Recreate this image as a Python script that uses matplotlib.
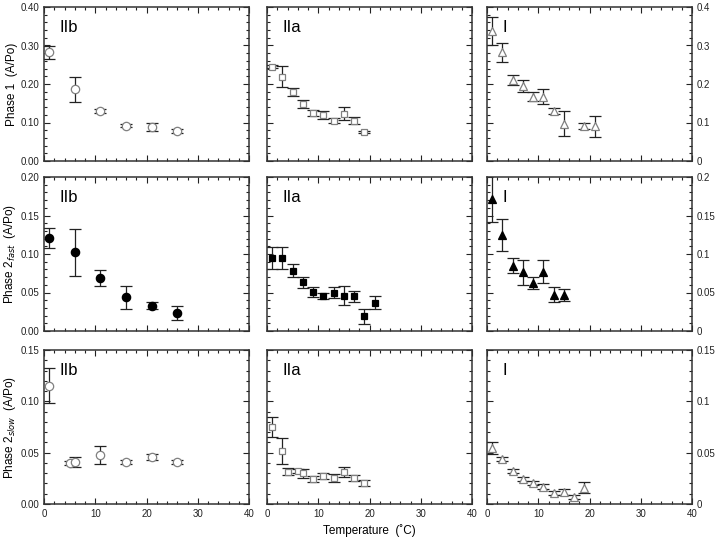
import matplotlib
matplotlib.use("Agg")
import matplotlib.pyplot as plt
from matplotlib.ticker import MultipleLocator, FormatStrFormatter

plt.rcParams['font.family'] = ['Liberation Sans', 'DejaVu Sans']

# ---- data ----
# phase 1
p1_IIb_t = [1, 6, 11, 16, 21, 26]
p1_IIb_y = [0.283, 0.186, 0.130, 0.092, 0.088, 0.078]
p1_IIb_e = [0.017, 0.032, 0.006, 0.004, 0.010, 0.005]

p1_IIa_t = [1, 3, 5, 7, 9, 11, 13, 15, 17, 19]
p1_IIa_y = [0.245, 0.219, 0.179, 0.148, 0.125, 0.119, 0.105, 0.123, 0.105, 0.075]
p1_IIa_e = [0.004, 0.028, 0.011, 0.010, 0.008, 0.010, 0.006, 0.016, 0.008, 0.003]

p1_I_t = [1, 3, 5, 7, 9, 11, 13, 15, 19, 21]
p1_I_y = [0.337, 0.282, 0.211, 0.195, 0.167, 0.167, 0.130, 0.097, 0.091, 0.090]
p1_I_e = [0.037, 0.024, 0.013, 0.015, 0.012, 0.020, 0.007, 0.033, 0.009, 0.028]

# phase 2 fast
p2f_IIb_t = [1, 6, 11, 16, 21, 26]
p2f_IIb_y = [0.121, 0.102, 0.069, 0.044, 0.033, 0.023]
p2f_IIb_e = [0.013, 0.031, 0.010, 0.015, 0.0045, 0.009]

p2f_IIa_t = [1, 3, 5, 7, 9, 11, 13, 15, 17, 19, 21]
p2f_IIa_y = [0.095, 0.095, 0.078, 0.063, 0.0505, 0.046, 0.050, 0.046, 0.045, 0.019, 0.037]
p2f_IIa_e = [0.0145, 0.014, 0.0085, 0.007, 0.006, 0.004, 0.0065, 0.012, 0.007, 0.010, 0.008]

p2f_I_t = [1, 3, 5, 7, 9, 11, 13, 15]
p2f_I_y = [0.172, 0.125, 0.085, 0.076, 0.062, 0.077, 0.047, 0.047]
p2f_I_e = [0.030, 0.021, 0.010, 0.0165, 0.008, 0.015, 0.0095, 0.008]

# phase 2 slow
p2s_IIb_t = [1, 5, 6, 11, 16, 21, 26]
p2s_IIb_y = [0.115, 0.040, 0.041, 0.0475, 0.041, 0.046, 0.041]
p2s_IIb_e = [0.017, 0.002, 0.0045, 0.009, 0.002, 0.003, 0.002]

p2s_IIa_t = [1, 3, 4, 6, 7, 9, 11, 13, 15, 17, 19]
p2s_IIa_y = [0.075, 0.0515, 0.0316, 0.032, 0.030, 0.024, 0.027, 0.025, 0.031, 0.025, 0.0205]
p2s_IIa_e = [0.010, 0.013, 0.003, 0.002, 0.0045, 0.003, 0.003, 0.004, 0.005, 0.003, 0.003]

p2s_I_t = [1, 3, 5, 7, 9, 11, 13, 15, 17, 19]
p2s_I_y = [0.0545, 0.044, 0.032, 0.0245, 0.0205, 0.017, 0.011, 0.0115, 0.0072, 0.016]
p2s_I_e = [0.0055, 0.002, 0.002, 0.002, 0.002, 0.002, 0.002, 0.003, 0.002, 0.005]

group_names = ['IIb', 'IIa', 'I']
row_labels = ['Phase 1  (A/Po)', 'Phase 2$_{fast}$  (A/Po)', 'Phase 2$_{slow}$  (A/Po)']
row_ylim = [0.40, 0.20, 0.15]
row_major = [0.10, 0.05, 0.05]
row_minor = [0.02, 0.01, 0.01]

rows = [
    [(p1_IIb_t, p1_IIb_y, p1_IIb_e), (p1_IIa_t, p1_IIa_y, p1_IIa_e), (p1_I_t, p1_I_y, p1_I_e)],
    [(p2f_IIb_t, p2f_IIb_y, p2f_IIb_e), (p2f_IIa_t, p2f_IIa_y, p2f_IIa_e), (p2f_I_t, p2f_I_y, p2f_I_e)],
    [(p2s_IIb_t, p2s_IIb_y, p2s_IIb_e), (p2s_IIa_t, p2s_IIa_y, p2s_IIa_e), (p2s_I_t, p2s_I_y, p2s_I_e)],
]

col_marker = ['o', 's', '^']
col_msize = [6.0, 5.0, 6.0]
row_filled = [False, True, False]

fig = plt.figure(figsize=(7.2, 5.39), dpi=100)

lefts = [44, 267, 487]
tops = [7, 177, 350]
w, h = 205, 154

for r in range(3):
    for c in range(3):
        ax = fig.add_axes([lefts[c] / 720, 1 - (tops[r] + h) / 539, w / 720, h / 539])
        t, y, e = rows[r][c]
        if row_filled[r]:
            fc, ec = 'black', 'black'
        else:
            fc, ec = 'white', '#808080'
        ax.errorbar(t, y, yerr=e, fmt='none', ecolor='#222222', elinewidth=0.9,
                    capsize=4.5, capthick=0.9, zorder=2)
        ax.plot(t, y, linestyle='none', marker=col_marker[c], markersize=col_msize[c],
                markerfacecolor=fc, markeredgecolor=ec, markeredgewidth=0.9, zorder=3)

        ax.set_xlim(0, 40)
        ax.set_ylim(0, row_ylim[r])
        ax.xaxis.set_major_locator(MultipleLocator(10))
        ax.xaxis.set_minor_locator(MultipleLocator(2))
        ax.yaxis.set_major_locator(MultipleLocator(row_major[r]))
        ax.yaxis.set_minor_locator(MultipleLocator(row_minor[r]))
        ax.tick_params(which='both', direction='in', top=True, right=True,
                       labelsize=7, colors='#222222', width=0.8)
        ax.tick_params(which='major', length=4)
        ax.tick_params(which='minor', length=2)
        for sp in ax.spines.values():
            sp.set_linewidth(1.1)
            sp.set_color('#333333')

        if r < 2:
            ax.tick_params(labelbottom=False)
        if c == 0:
            ax.yaxis.set_major_formatter(FormatStrFormatter('%.2f'))
            ax.set_ylabel(row_labels[r], fontsize=8.5, labelpad=1.5)
        elif c == 1:
            ax.tick_params(labelleft=False)
        else:
            ax.tick_params(labelleft=False, labelright=True)
            ax.yaxis.set_major_formatter(FormatStrFormatter('%g'))

        ax.text(0.075, 0.87, group_names[c], transform=ax.transAxes,
                fontsize=12, va='center', ha='left')

        if r == 2 and c == 1:
            ax.set_xlabel('Temperature  (˚C)', fontsize=8.5, labelpad=4)

fig.savefig('out.png', dpi=100)
